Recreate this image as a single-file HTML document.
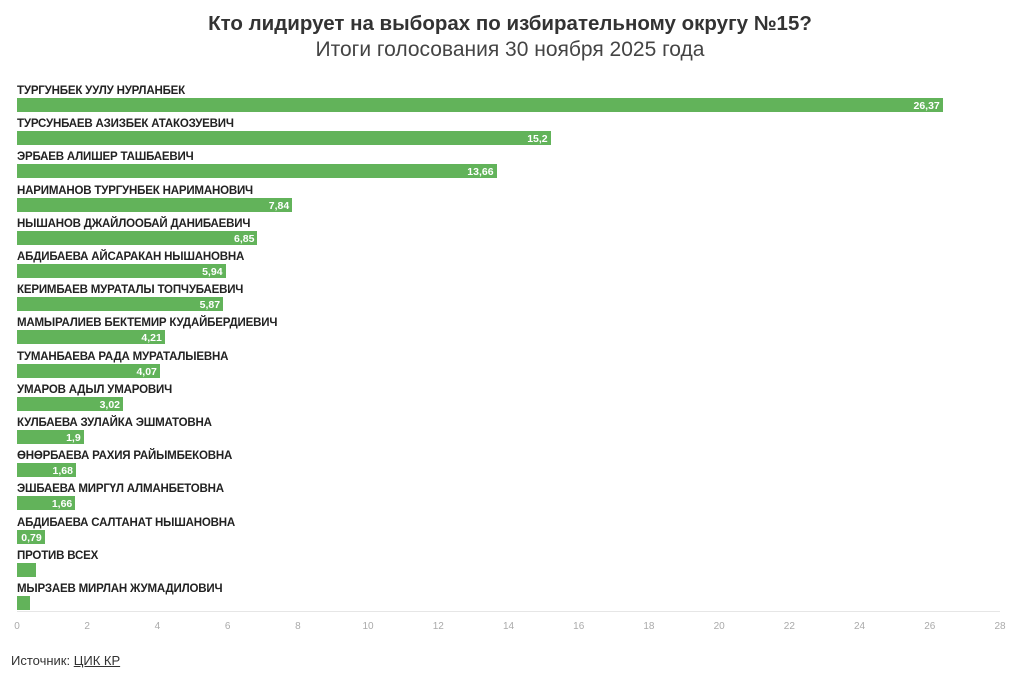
<!DOCTYPE html>
<html><head><meta charset="utf-8"><style>
body{margin:0;width:1020px;height:680px;background:#fff;font-family:"Liberation Sans","DejaVu Sans",sans-serif;position:relative;overflow:hidden}
.t{position:absolute;left:0;width:1020px;text-align:center;color:#333}
.n{position:absolute;left:17px;font-size:12px;font-weight:bold;color:#222;transform:scaleX(0.96);transform-origin:left;white-space:nowrap;letter-spacing:-0.2px}
.b{position:absolute;left:17px;height:14px;background:#62b35a}
.v{position:absolute;right:3px;top:1px;font-size:10.5px;font-weight:bold;color:#fff;line-height:14px}
.tk{position:absolute;top:621px;font-size:10px;color:#aaa;width:30px;margin-left:-15px;text-align:center}
</style></head><body>
<div class="t" style="top:12px;font-size:20.5px;font-weight:bold">Кто лидирует на выборах по избирательному округу №15?</div>
<div class="t" style="top:38px;font-size:21px;color:#444">Итоги голосования 30 ноября 2025 года</div>
<div id="c"></div>
<div style="position:absolute;left:17px;top:611px;width:983px;height:1px;background:#e6e6e6"></div>
<div style="position:absolute;left:11px;top:653px;font-size:13px;color:#333">Источник: <u>ЦИК КР</u></div>
<script>
var d=[["ТУРГУНБЕК УУЛУ НУРЛАНБЕК",26.37,"26,37"],["ТУРСУНБАЕВ АЗИЗБЕК АТАКОЗУЕВИЧ",15.2,"15,2"],["ЭРБАЕВ АЛИШЕР ТАШБАЕВИЧ",13.66,"13,66"],["НАРИМАНОВ ТУРГУНБЕК НАРИМАНОВИЧ",7.84,"7,84"],["НЫШАНОВ ДЖАЙЛООБАЙ ДАНИБАЕВИЧ",6.85,"6,85"],["АБДИБАЕВА АЙСАРАКАН НЫШАНОВНА",5.94,"5,94"],["КЕРИМБАЕВ МУРАТАЛЫ ТОПЧУБАЕВИЧ",5.87,"5,87"],["МАМЫРАЛИЕВ БЕКТЕМИР КУДАЙБЕРДИЕВИЧ",4.21,"4,21"],["ТУМАНБАЕВА РАДА МУРАТАЛЫЕВНА",4.07,"4,07"],["УМАРОВ АДЫЛ УМАРОВИЧ",3.02,"3,02"],["КУЛБАЕВА ЗУЛАЙКА ЭШМАТОВНА",1.9,"1,9"],["ӨНӨРБАЕВА РАХИЯ РАЙЫМБЕКОВНА",1.68,"1,68"],["ЭШБАЕВА МИРГҮЛ АЛМАНБЕТОВНА",1.66,"1,66"],["АБДИБАЕВА САЛТАНАТ НЫШАНОВНА",0.79,"0,79"],["ПРОТИВ ВСЕХ",0.55,""],["МЫРЗАЕВ МИРЛАН ЖУМАДИЛОВИЧ",0.37,""]];
var s=983/28,h="";
d.forEach(function(r,i){var y=98+i*33.2;
h+='<div class="n" style="top:'+(y-15)+'px">'+r[0]+'</div><div class="b" style="top:'+y+'px;width:'+(r[1]*s)+'px">'+(r[2]?'<span class="v">'+r[2]+'</span>':'')+'</div>';});
for(var k=0;k<=28;k+=2)h+='<div class="tk" style="left:'+(17+k*s)+'px">'+k+'</div>';
document.getElementById("c").innerHTML=h;
</script>
</body></html>
